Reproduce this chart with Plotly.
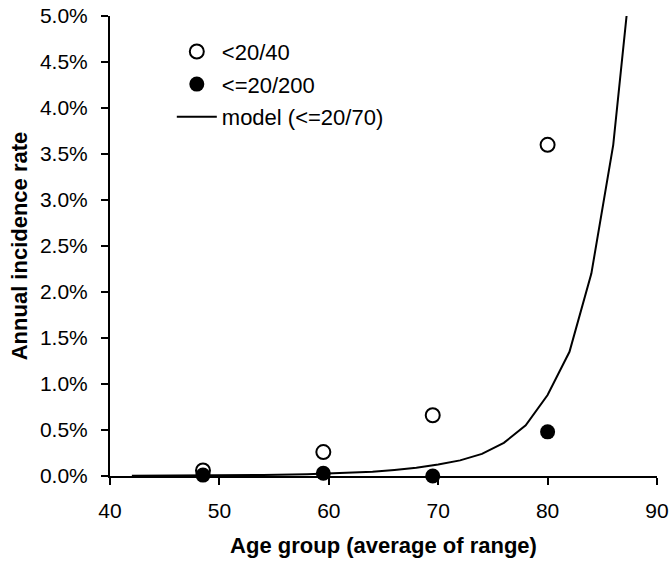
import plotly.graph_objects as go

# Data (fractions)
age_groups = [48.5, 59.5, 69.5, 80.0]
rate_2040 = [0.0006, 0.0026, 0.0066, 0.036]
rate_20200 = [0.0001, 0.0003, 0.0000, 0.0048]

model_age = [42, 46, 50, 54, 58, 60, 62, 64, 66, 68, 70, 72, 74, 76, 78, 80, 82, 84, 86, 88]
model_rate = [0.00003, 0.00005, 0.00008, 0.00012, 0.0002, 0.00027, 0.00035, 0.00045,
              0.00065, 0.0009, 0.00125, 0.0017, 0.0024, 0.0036, 0.0055, 0.0088,
              0.0135, 0.022, 0.036, 0.059]

FONT = "Arial, Liberation Sans, sans-serif"

fig = go.Figure()
fig.add_trace(go.Scatter(
    x=model_age, y=model_rate, mode="lines", name="model (<=20/70)",
    legendgroup="c", legendrank=3,
    line=dict(color="black", width=2)))
fig.add_trace(go.Scatter(
    x=age_groups, y=rate_2040, mode="markers", name="<20/40",
    legendgroup="a", legendrank=1,
    marker=dict(symbol="circle-open", size=14, color="black", line=dict(width=2, color="black")),
    cliponaxis=False))
fig.add_trace(go.Scatter(
    x=age_groups, y=rate_20200, mode="markers", name="<=20/200",
    legendgroup="b", legendrank=2,
    marker=dict(symbol="circle", size=15, color="black"),
    cliponaxis=False))

fig.update_layout(
    width=671, height=565,
    margin=dict(l=110, r=14, t=16, b=89),
    paper_bgcolor="white", plot_bgcolor="white",
    font=dict(family=FONT, size=21, color="black"),
    showlegend=True,
    legend=dict(x=0.113, y=0.968, xanchor="left", yanchor="top",
                bgcolor="rgba(0,0,0,0)", font=dict(size=22, family=FONT),
                traceorder="grouped", tracegroupgap=1, itemwidth=40),
    xaxis=dict(range=[40, 90], dtick=10, tick0=40, showgrid=False, zeroline=False,
               showline=True, linecolor="black", linewidth=2, automargin=False,
               ticks="outside", ticklen=7, tickwidth=2, tickcolor="black",
               tickfont=dict(size=21), ticklabelstandoff=8,
               title=dict(text="<b>Age group (average of range)</b>", font=dict(size=22), standoff=16)),
    yaxis=dict(range=[0, 0.05], dtick=0.005, tickformat=".1%", showgrid=False, zeroline=False,
               showline=True, linecolor="black", linewidth=2, automargin=False,
               ticks="outside", ticklen=7, tickwidth=2, tickcolor="black",
               tickfont=dict(size=21), ticklabelstandoff=9,
               title=dict(text="<b>Annual incidence rate</b>", font=dict(size=22), standoff=6)),
)

fig.write_html("out.html")
